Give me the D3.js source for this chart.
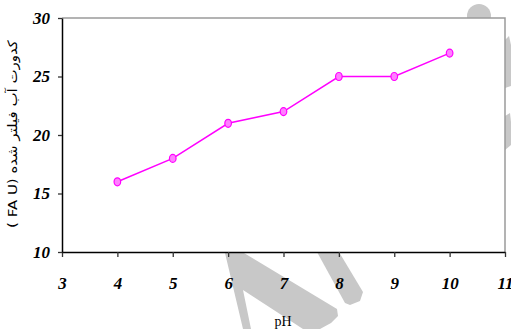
<!DOCTYPE html>
<html>
<head>
<meta charset="utf-8">
<script src="https://cdn.jsdelivr.net/npm/d3@7"></script>
<style>
  html, body { margin: 0; padding: 0; background: #fff; }
  svg { display: block; }
</style>
</head>
<body>
<script>
// pH values and turbidity of the filtered water (FAU)
const phValues = [4, 5, 6, 7, 8, 9, 10];
const turbidity = [16, 18, 21, 22, 25, 25, 27];
const xTicks = [3, 4, 5, 6, 7, 8, 9, 10, 11];
const yTicks = [10, 15, 20, 25, 30];
const yTitle = "کدورت آب فیلتر شده (FA U )";
const xTitle = "pH";

const W = 511, H = 329;
const plot = { left: 62, top: 18, right: 505, bottom: 252 };

const svg = d3.select("body").append("svg")
  .attr("width", W).attr("height", H);

// faint gray background mark, only visible outside the plotting area
const wm = svg.append("g").attr("fill", "#c8c8c8");
wm.append("circle").attr("cx", 479).attr("cy", 16).attr("r", 12);
const shapes = [
  [[225,253],[244,253],[337,309],[338,316],[331,323],[320,329],[303,329],[243,290],[251,329],[243,329]],
  [[317,252],[339,252],[363,292],[360,301],[350,305],[345,303]],
  [[505,40],[509,36],[511,45],[511,86],[505,88]],
  [[505,116],[510,113],[511,122],[511,145],[505,150]]
];
shapes.forEach(p => wm.append("path").attr("d", d3.line()(p) + "Z"));

const x = d3.scaleLinear().domain([3, 11]).range([plot.left, plot.right]);
const y = d3.scaleLinear().domain([10, 30]).range([plot.bottom, plot.top]);

// white plotting area with gray frame on top and right
svg.append("rect")
  .attr("x", plot.left).attr("y", plot.top)
  .attr("width", plot.right - plot.left).attr("height", plot.bottom - plot.top)
  .attr("fill", "#fff");
svg.append("path")
  .attr("d", `M${plot.left},${plot.top}H${plot.right}V${plot.bottom}`)
  .attr("fill", "none").attr("stroke", "#9a9a9a").attr("stroke-width", 1.5);

const tickFont = "Liberation Serif, serif";

const xAxis = svg.append("g")
  .attr("transform", `translate(0,${plot.bottom})`)
  .call(d3.axisBottom(x).tickValues(xTicks).tickSize(5).tickSizeOuter(0).tickPadding(20));
const yAxis = svg.append("g")
  .attr("transform", `translate(${plot.left},0)`)
  .call(d3.axisLeft(y).tickValues(yTicks).tickSize(4).tickSizeOuter(0).tickPadding(8));

[xAxis, yAxis].forEach(a => {
  a.attr("font-family", tickFont).attr("font-size", 17)
   .attr("font-weight", "bold").attr("font-style", "italic");
  a.select(".domain").attr("stroke", "#000").attr("stroke-width", 1.5);
  a.selectAll(".tick line").attr("stroke", "#333").attr("stroke-width", 1.3);
  a.selectAll(".tick text").attr("fill", "#000");
});

// data line and markers
const pts = phValues.map((p, i) => [p, turbidity[i]]);
svg.append("path")
  .datum(pts)
  .attr("fill", "none")
  .attr("stroke", "#ff00ff")
  .attr("stroke-width", 1.5)
  .attr("d", d3.line().x(d => x(d[0])).y(d => y(d[1])));

svg.append("g").selectAll("ellipse")
  .data(pts)
  .join("ellipse")
  .attr("cx", d => x(d[0]))
  .attr("cy", d => y(d[1]))
  .attr("rx", 3.3).attr("ry", 4)
  .attr("fill", "#ff80ff")
  .attr("stroke", "#ff00ff")
  .attr("stroke-width", 1.2);

// axis titles
svg.append("text")
  .attr("x", 283).attr("y", 326)
  .attr("text-anchor", "middle")
  .attr("font-family", tickFont)
  .attr("font-size", 14)
  .text(xTitle);

const yt = svg.append("g").attr("transform", "translate(17,134) rotate(-90)");
const ytText = yt.append("text")
  .attr("text-anchor", "middle")
  .attr("direction", "rtl")
  .attr("font-family", "DejaVu Sans, serif")
  .attr("font-size", 13)
  .text(yTitle);
// stretch the title to span the axis height without altering letter joins
const natural = ytText.node().getComputedTextLength();
ytText.attr("transform", `scale(${188 / natural},1)`);
</script>
</body>
</html>
